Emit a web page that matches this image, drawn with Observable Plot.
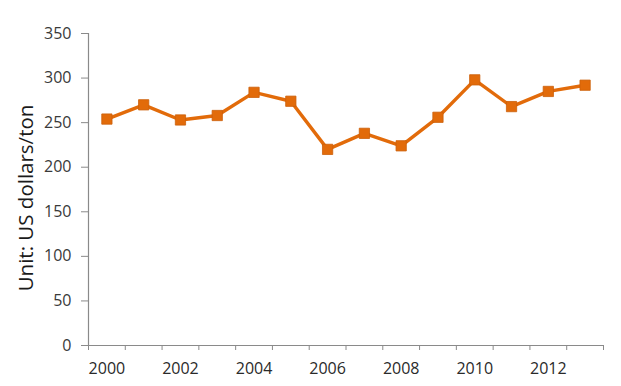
<!DOCTYPE html>
<html><head><meta charset="utf-8">
<script src="https://cdn.jsdelivr.net/npm/d3@7"></script>
<script src="https://cdn.jsdelivr.net/npm/@observablehq/plot@0.6"></script>
<style>
body{margin:0;background:#fff;}
#chart svg{display:block;}
</style></head>
<body><div id="chart"></div>
<script>
const years = [2000,2001,2002,2003,2004,2005,2006,2007,2008,2009,2010,2011,2012,2013];
const prices = [254,270,253,258,284,274,220,238,224,256,298,268,285,292];
const yTicks = [0,50,100,150,200,250,300,350];
const xLabels = [2000,2002,2004,2006,2008,2010,2012];
const yTitle = "Unit: US dollars/ton";

const data = years.map((y,i)=>({year:y, price:prices[i]}));
const boundaries = d3.range(years[0]-0.5, years[years.length-1]+1, 1);

const chart = Plot.plot({
  width: 621, height: 386,
  marginLeft: 88, marginRight: 18, marginTop: 33, marginBottom: 41,
  style: {fontFamily: "Open Sans, Lato, sans-serif", fontSize: "16px", color: "#404040", background: "#fff"},
  x: {type: "linear", domain: [years[0]-0.5, years[years.length-1]+0.5]},
  y: {domain: [0, 350]},
  marks: [
    Plot.axisY({ticks: yTicks, tickSize: 7, tickPadding: 10, stroke: "#8a8a8a", label: null, fontSize: 16, fill: "#3a3a3a"}),
    Plot.ruleX([years[0]-0.5], {stroke: "#8a8a8a", strokeWidth: 1.2}),
    Plot.axisX({ticks: boundaries, tickSize: 5, tickFormat: () => "", stroke: "#8a8a8a", label: null}),
    Plot.axisX({ticks: xLabels, tickSize: 0, tickPadding: 17, tickFormat: d => String(d), label: null, fontSize: 16, fill: "#2a2a2a"}),
    Plot.ruleY([0], {stroke: "#8a8a8a", strokeWidth: 1.2}),
    Plot.line(data, {x: "year", y: "price", stroke: "#E26B0A", strokeWidth: 3.4, strokeLinejoin: "round"}),
    Plot.dot(data, {x: "year", y: "price", symbol: "square", r: 5.8, fill: "#E26B0A", stroke: "#CC5F0A", strokeWidth: 0.8})
  ]
});
document.getElementById("chart").appendChild(chart);

const svg = d3.select(chart);
svg.append("text")
  .attr("transform", "translate(33,198) rotate(-90)")
  .attr("text-anchor", "middle")
  .attr("font-family", "Open Sans, Lato, sans-serif")
  .attr("font-size", 20.5)
  .attr("fill", "#1a1a1a")
  .text(yTitle);
</script>
</body></html>
